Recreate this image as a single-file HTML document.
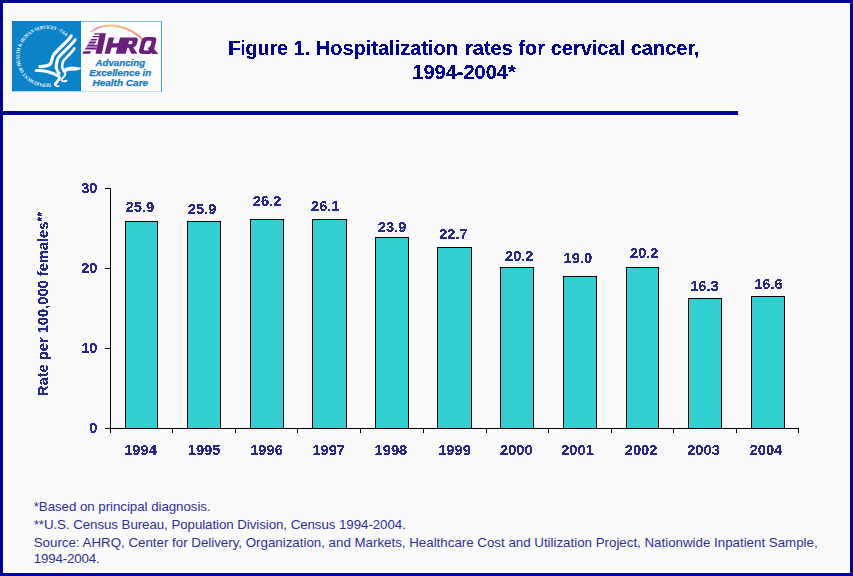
<!DOCTYPE html>
<html>
<head>
<meta charset="utf-8">
<title>Figure 1</title>
<style>
html,body{margin:0;padding:0;}
body{width:853px;height:576px;overflow:hidden;background:#fafafa;font-family:"Liberation Sans",sans-serif;position:relative;}
#frame{position:absolute;left:0;top:0;width:847px;height:570px;border:3px solid #00009c;background:#fafafa;box-shadow:inset 0 0 0 1px #ffffff;}
.abs{position:absolute;white-space:nowrap;}
#title{position:absolute;left:164px;top:35.5px;width:600px;text-align:center;font-weight:bold;font-size:20px;line-height:24px;color:#000099;}
#rulebg{position:absolute;left:3px;top:110px;width:736px;height:6px;background:#ffffff;}
#rule{position:absolute;left:3px;top:111px;width:735px;height:4px;background:#00009c;}
.bar{position:absolute;background:#31cfcf;border:1px solid #000;box-sizing:border-box;}
.val,.yr,.yt{position:absolute;font-weight:bold;font-size:14.67px;color:#28288e;text-align:center;line-height:16px;white-space:nowrap;}
.val,.yr{text-align:left;}
.yt{width:30px;text-align:right;}
.ax{position:absolute;background:#000;}
#ylab{position:absolute;left:34.5px;top:395.6px;width:0;height:0;}
#ylab span{position:absolute;white-space:nowrap;font-weight:bold;font-size:14.67px;color:#28288e;transform-origin:0 0;transform:rotate(-90deg);line-height:16px;}
.fn{position:absolute;left:33.7px;font-size:13.33px;color:#30309a;white-space:nowrap;line-height:16px;}
.al{filter:url(#alias3);}
.al2{filter:url(#alias2);}
#chart,#txt,#foot{position:absolute;left:0;top:0;width:853px;height:576px;}
</style>
</head>
<body>
<div id="frame"></div>
<svg width="0" height="0" style="position:absolute"><defs>
<filter id="alias" x="0" y="0" width="100%" height="100%" color-interpolation-filters="sRGB"><feComponentTransfer><feFuncA type="discrete" tableValues="0 1 1"/></feComponentTransfer></filter>
<filter id="alias2" x="0" y="0" width="100%" height="100%" color-interpolation-filters="sRGB"><feComponentTransfer><feFuncA type="discrete" tableValues="0 0 1 1 1"/></feComponentTransfer></filter>
<filter id="alias3" x="0" y="0" width="100%" height="100%" color-interpolation-filters="sRGB"><feComponentTransfer><feFuncA type="discrete" tableValues="0 0 1 1 1"/></feComponentTransfer></filter>
</defs></svg>


<!-- logo -->
<svg class="abs" style="left:12px;top:21px" width="150" height="72" viewBox="0 0 150 72">
  <defs>
    <linearGradient id="arcg" x1="0" y1="0" x2="1" y2="0">
      <stop offset="0" stop-color="#f4b4cc"/>
      <stop offset="0.12" stop-color="#ef8fb4"/>
      <stop offset="0.35" stop-color="#f9c77c"/>
      <stop offset="0.6" stop-color="#f6b07a"/>
      <stop offset="1" stop-color="#ec7aa0"/>
    </linearGradient>
    <path id="circ" d="M38.73,62.53 A27.5,27.5 0 1 1 54.7,16.2" fill="none"/>
  </defs>
  <rect x="69" y="0" width="81" height="71" fill="#fdfdfd"/>
  <rect x="0" y="0" width="69" height="70.4" fill="#0c82c8"/>
  <line x1="69" y1="0.5" x2="150" y2="0.5" stroke="#7ec0e6" stroke-width="1"/>
  <line x1="0" y1="70.6" x2="150" y2="70.6" stroke="#b4dcf0" stroke-width="0.9"/>
  <line x1="149.5" y1="0" x2="149.5" y2="71" stroke="#4aa2dc" stroke-width="1"/>
  <!-- HHS seal text -->
  <text font-family="Liberation Serif, serif" font-weight="bold" font-size="5" fill="#ffffff"><textPath href="#circ" textLength="111" lengthAdjust="spacingAndGlyphs">DEPARTMENT OF HEALTH &amp; HUMAN SERVICES · USA</textPath></text>
  <!-- eagle -->
  <g transform="translate(18,9) scale(0.104167)" fill="none" stroke="#ffffff" stroke-linecap="round" stroke-linejoin="round">
    <path d="M396,56 C376,98 300,152 230,234 C204,268 216,308 188,332 C162,348 122,348 96,352" stroke-width="31"/>
    <path d="M434,92 C418,124 340,192 278,258 C250,290 258,330 250,360 C264,380 256,396 280,416" stroke-width="29"/>
    <path d="M426,176 C412,204 370,242 324,292 C304,316 310,340 308,360 C322,380 314,394 336,408" stroke-width="25"/>
    <path d="M58,390 C120,386 222,404 280,446 C296,474 254,494 244,518" stroke-width="28"/>
    <path d="M238,516 C238,540 262,544 276,538" stroke-width="16"/>
    <path d="M338,414 C350,440 306,460 302,482 C314,498 338,494 350,486" stroke-width="18"/>
    <path d="M330,372 C370,350 420,352 492,366 C470,382 440,390 400,386 C370,386 350,396 335,402 Z" fill="#ffffff" stroke-width="6"/>
  </g>
  <!-- AHRQ -->
  <path d="M78.5,11 C90,2 113,0 134,21.5" fill="none" stroke="url(#arcg)" stroke-width="1.9"/>
  <g transform="translate(68,1) scale(0.09615)" fill="#6b1f7c">
    <polygon points="206,118 269.4,118 227.2,330 161,330"/>
    <polygon points="151.1,118 208.0,118 205.4,130 143.9,130" fill="#6b1f7c"/>
    <polygon points="134.3,146 202.3,146 195.0,158 127.0,158" fill="#6b1f7c"/>
    <polygon points="115.6,177 181.6,177 174.4,189 108.4,189" fill="#6b1f7c"/>
    <polygon points="108.4,189 174.4,189 164.7,205 98.7,205" fill="#a87bb6"/>
    <polygon points="98.7,205 168.7,205 160.3,219 90.3,219" fill="#6b1f7c"/>
    <polygon points="90.3,219 162.3,219 150.9,238 78.9,238" fill="#a87bb6"/>
    <polygon points="78.9,238 182.4,238 179.9,250 71.6,250" fill="#6b1f7c"/>
    <polygon points="71.6,250 179.9,250 175.4,271 59.0,271" fill="#a87bb6"/>
    <polygon points="59.0,271 175.4,271 172.0,287 49.4,287" fill="#6b1f7c"/>
    <polygon points="39.1,304 117.1,304 101.5,330 23.5,330" fill="#6b1f7c"/>
    <g transform="translate(0,330) skewX(-14.7) translate(0,-330)">
      <rect x="255" y="160" width="56" height="170"/>
      <rect x="372" y="160" width="56" height="170"/>
      <rect x="300" y="222" width="80" height="42"/>
      <path fill-rule="evenodd" d="M420,160 H530 Q564,160 564,195 V228 Q564,258 537,264 L597,330 H535 L490,268 H476 V330 H420 Z M476,196 H502 Q514,196 514,207 V221 Q514,232 502,232 H476 Z"/>
      <path fill-rule="evenodd" d="M650,157 H712 Q758,157 758,203 V287 Q758,333 712,333 H650 Q604,333 604,287 V203 Q604,157 650,157 Z M664,194 Q650,194 650,208 V282 Q650,296 664,296 H698 Q712,296 712,282 V208 Q712,194 698,194 Z"/>
    </g>
    <polygon points="704,272 742,244 814,334 754,334"/>
  </g>
  <g font-family="Liberation Sans, sans-serif" font-weight="bold" font-style="italic" font-size="9.8" fill="#1878c0" stroke="#1878c0" stroke-width="0.25" text-anchor="middle">
    <text x="108.3" y="45.1" textLength="49.6" lengthAdjust="spacingAndGlyphs">Advancing</text>
    <text x="108.3" y="55.1" textLength="62" lengthAdjust="spacingAndGlyphs">Excellence in</text>
    <text x="108.3" y="65.1" textLength="55.8" lengthAdjust="spacingAndGlyphs">Health Care</text>
  </g>
</svg>

<div id="txt" class="al2">
<div id="title"><span style="letter-spacing:-0.25px">Figure</span> 1. Hospitalization<span style="display:inline-block;width:1.5px"></span> rates for cervical cancer,<br>1994-2004*</div>
</div>
<div id="rulebg"></div><div id="rule"></div>

<div id="txt2" style="filter:url(#alias3);position:absolute;left:0;top:0;width:853px;height:576px">
<div id="ylab"><span>Rate per 100,000 females<sup style="font-size:12px;line-height:0;vertical-align:2px;letter-spacing:0.2px">**</sup></span></div>
</div>
<div id="chart" class="al">
<div class="ax" style="left:110px;top:188px;width:1px;height:245px"></div>
<div class="ax" style="left:105px;top:428px;width:694px;height:1px"></div>
<div class="ax" style="left:105px;top:348px;width:5px;height:1px"></div>
<div class="ax" style="left:105px;top:268px;width:5px;height:1px"></div>
<div class="ax" style="left:105px;top:188px;width:5px;height:1px"></div>
<div class="ax" style="left:172px;top:428px;width:1px;height:5px"></div>
<div class="ax" style="left:235px;top:428px;width:1px;height:5px"></div>
<div class="ax" style="left:297px;top:428px;width:1px;height:5px"></div>
<div class="ax" style="left:360px;top:428px;width:1px;height:5px"></div>
<div class="ax" style="left:423px;top:428px;width:1px;height:5px"></div>
<div class="ax" style="left:486px;top:428px;width:1px;height:5px"></div>
<div class="ax" style="left:548px;top:428px;width:1px;height:5px"></div>
<div class="ax" style="left:611px;top:428px;width:1px;height:5px"></div>
<div class="ax" style="left:673px;top:428px;width:1px;height:5px"></div>
<div class="ax" style="left:736px;top:428px;width:1px;height:5px"></div>
<div class="ax" style="left:798px;top:428px;width:1px;height:5px"></div>
<div class="yt" style="left:67.5px;top:419.6px">0</div>
<div class="yt" style="left:67.5px;top:339.6px">10</div>
<div class="yt" style="left:67.5px;top:259.6px">20</div>
<div class="yt" style="left:67.5px;top:179.6px">30</div>
<div class="bar" style="left:125px;top:221px;width:33px;height:208px"></div>
<div class="yr" id="y0" style="left:124.2px;top:442.0px">1994</div>
<div class="val" id="v0" style="left:125.6px;top:198.8px">25.9</div>
<div class="bar" style="left:187px;top:221px;width:34px;height:208px"></div>
<div class="yr" id="y1" style="left:187.8px;top:442.0px">1995</div>
<div class="val" id="v1" style="left:187.8px;top:201.2px">25.9</div>
<div class="bar" style="left:250px;top:219px;width:34px;height:210px"></div>
<div class="yr" id="y2" style="left:250.2px;top:442.0px">1996</div>
<div class="val" id="v2" style="left:252.8px;top:192.6px">26.2</div>
<div class="bar" style="left:312px;top:219px;width:35px;height:210px"></div>
<div class="yr" id="y3" style="left:312.4px;top:442.0px">1997</div>
<div class="val" id="v3" style="left:311.0px;top:197.9px">26.1</div>
<div class="bar" style="left:375px;top:237px;width:34px;height:192px"></div>
<div class="yr" id="y4" style="left:374.6px;top:442.0px">1998</div>
<div class="val" id="v4" style="left:377.8px;top:218.8px">23.9</div>
<div class="bar" style="left:437px;top:247px;width:35px;height:182px"></div>
<div class="yr" id="y5" style="left:438.2px;top:442.0px">1999</div>
<div class="val" id="v5" style="left:439.2px;top:226.3px">22.7</div>
<div class="bar" style="left:500px;top:267px;width:34px;height:162px"></div>
<div class="yr" id="y6" style="left:500.0px;top:442.0px">2000</div>
<div class="val" id="v6" style="left:505.0px;top:247.8px">20.2</div>
<div class="bar" style="left:563px;top:276px;width:34px;height:153px"></div>
<div class="yr" id="y7" style="left:561.2px;top:442.0px">2001</div>
<div class="val" id="v7" style="left:563.6px;top:250.4px">19.0</div>
<div class="bar" style="left:626px;top:267px;width:33px;height:162px"></div>
<div class="yr" id="y8" style="left:624.8px;top:442.0px">2002</div>
<div class="val" id="v8" style="left:630.0px;top:244.8px">20.2</div>
<div class="bar" style="left:688px;top:298px;width:34px;height:131px"></div>
<div class="yr" id="y9" style="left:687.2px;top:442.0px">2003</div>
<div class="val" id="v9" style="left:690.2px;top:277.5px">16.3</div>
<div class="bar" style="left:751px;top:296px;width:34px;height:133px"></div>
<div class="yr" id="y10" style="left:749.6px;top:442.0px">2004</div>
<div class="val" id="v10" style="left:754.2px;top:276.0px">16.6</div>
</div><!--endchart-->

<div id="foot">
<div class="fn" style="top:499px;letter-spacing:-0.055px">*Based on principal diagnosis.</div>
<div class="fn" style="top:516.8px;letter-spacing:-0.072px">**U.S. Census Bureau, Population Division, Census 1994-2004.</div>
<div class="fn" style="top:535px;letter-spacing:-0.008px">Source: AHRQ, Center for Delivery, Organization, and Markets, Healthcare Cost and Utilization Project, Nationwide Inpatient Sample,</div>
<div class="fn" style="top:551px;letter-spacing:-0.17px">1994-2004.</div>
</div>
</body>
</html>
